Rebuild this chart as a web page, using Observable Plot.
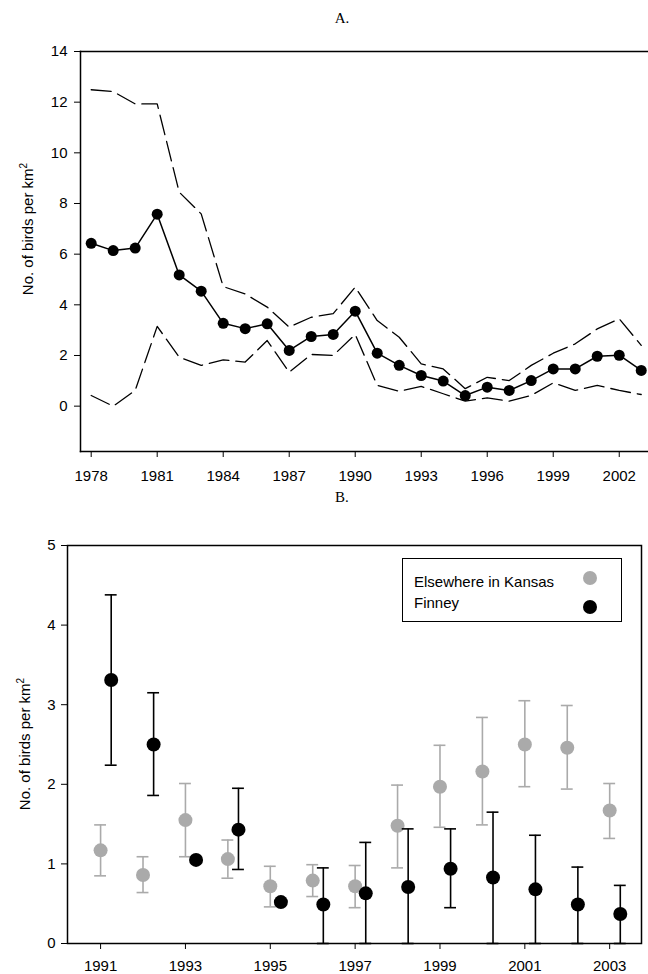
<!DOCTYPE html>
<html><head><meta charset="utf-8">
<script src="https://cdn.jsdelivr.net/npm/d3@7"></script>
<script src="https://cdn.jsdelivr.net/npm/@observablehq/plot@0.6"></script>
<style>
body{margin:0;background:#fff;width:648px;height:974px;position:relative;overflow:hidden;font-family:"Liberation Sans",Arial,sans-serif;color:#000;}
.abs{position:absolute;}
.title{font-family:"Liberation Serif","Times New Roman",serif;font-size:15px;width:648px;text-align:center;left:18px;line-height:15px;}
.ylab{font-size:15px;white-space:nowrap;line-height:15px;transform:translate(-50%,-50%) rotate(-90deg);}
.ylab sup{font-size:10px;vertical-align:6px;line-height:0;}
.leg{border:1.5px solid #000;box-sizing:border-box;font-size:15px;}
.leg span{position:absolute;line-height:15px;white-space:nowrap;}
.leg i{position:absolute;width:14px;height:14px;border-radius:50%;}
</style></head><body>
<div class="abs title" style="top:11px">A.</div>
<div id="chartA" class="abs" style="top:30px;left:0"></div>
<div class="abs ylab" style="left:27px;top:229px">No. of birds per km<sup>2</sup></div>
<div class="abs title" style="top:490px">B.</div>
<div id="chartB" class="abs" style="top:510px;left:0"></div>
<div class="abs ylab" style="left:24px;top:744px">No. of birds per km<sup>2</sup></div>
<div id="legend" class="abs leg" style="left:402px;top:558px;width:220px;height:64px"></div>
<script>
// ---------- Panel A data ----------
const yearsA = [1978,1979,1980,1981,1982,1983,1984,1985,1986,1987,1988,1989,1990,1991,1992,1993,1994,1995,1996,1997,1998,1999,2000,2001,2002,2003];
const meanA  = [6.43,6.14,6.24,7.58,5.18,4.54,3.27,3.06,3.25,2.20,2.75,2.83,3.75,2.09,1.61,1.21,0.99,0.42,0.75,0.62,1.01,1.47,1.47,1.97,2.01,1.41];
const upperA = [12.49,12.42,11.93,11.93,8.45,7.59,4.72,4.43,3.91,3.12,3.51,3.65,4.70,3.38,2.72,1.67,1.47,0.69,1.14,1.01,1.61,2.09,2.46,3.05,3.45,2.40];
const lowerA = [0.42,0.00,0.62,3.15,1.93,1.61,1.83,1.74,2.59,1.34,2.04,2.00,2.83,0.82,0.59,0.78,0.49,0.20,0.33,0.20,0.42,0.92,0.62,0.82,0.62,0.46];
const ticksAx = [1978,1981,1984,1987,1990,1993,1996,1999,2002];
const ticksAy = [0,2,4,6,8,10,12,14];

// ---------- Panel B data ----------
const seriesNames = ["Elsewhere in Kansas","Finney"];
const yearsB   = [1991,1992,1993,1994,1995,1996,1997,1998,1999,2000,2001,2002,2003];
const elseMean = [1.17,0.86,1.55,1.06,0.72,0.79,0.72,1.48,1.97,2.16,2.50,2.46,1.67];
const elseLow  = [0.85,0.64,1.09,0.82,0.46,0.59,0.45,0.95,1.46,1.49,1.97,1.94,1.32];
const elseHigh = [1.49,1.09,2.01,1.30,0.97,0.99,0.98,1.99,2.49,2.84,3.05,2.99,2.01];
const finMean  = [3.31,2.50,1.05,1.43,0.52,0.49,0.63,0.71,0.94,0.83,0.68,0.49,0.37];
const finLow   = [2.24,1.86,null,0.93,null,0.00,0.00,0.00,0.45,0.00,0.00,0.00,0.00];
const finHigh  = [4.38,3.15,null,1.95,null,0.95,1.27,1.44,1.44,1.65,1.36,0.96,0.73];
const ticksBx = [1991,1993,1995,1997,1999,2001,2003];
const ticksBy = [0,1,2,3,4,5];

// ---------- styles ----------
const GRAY = "#aaaaaa", BLACK = "#000000";
const finneyOffset = 0.25;   // years, side-by-side placement
const capHalf = 0.14;        // years, half-width of error-bar caps
const FS = 15;
const style = {fontFamily:"'Liberation Sans', Arial, sans-serif", fontSize:FS+"px", color:"#000", background:"transparent", overflow:"visible"};

const dataA = yearsA.map((y,i)=>({year:y, mean:meanA[i], upper:upperA[i], lower:lowerA[i]}));

const chartA = Plot.plot({
  width:648, height:460, marginTop:21, marginBottom:39, marginLeft:80, marginRight:0,
  style,
  x:{domain:[1977.514,2003.33], label:null},
  y:{domain:[-1.79,14], label:null},
  marks:[
    Plot.axisX({ticks:ticksAx, tickFormat:"d", tickSize:6, tickPadding:13, fontSize:FS, label:null}),
    Plot.axisY({ticks:ticksAy, tickFormat:"d", tickSize:6, tickPadding:7, fontSize:FS, label:null}),
    Plot.line(dataA,{x:"year", y:"upper", stroke:BLACK, strokeWidth:1.3, strokeDasharray:"20,7"}),
    Plot.line(dataA,{x:"year", y:"lower", stroke:BLACK, strokeWidth:1.3, strokeDasharray:"20,7"}),
    Plot.line(dataA,{x:"year", y:"mean", stroke:BLACK, strokeWidth:1.5}),
    Plot.dot(dataA,{x:"year", y:"mean", r:5.5, fill:BLACK}),
    Plot.frame({anchor:"top", stroke:BLACK, strokeWidth:1.5}),
    Plot.frame({anchor:"left", stroke:BLACK, strokeWidth:1.5}),
    Plot.frame({anchor:"bottom", stroke:BLACK, strokeWidth:1.5})
  ]
});
document.getElementById("chartA").appendChild(chartA);

const elseData = yearsB.map((y,i)=>({x:y, mean:elseMean[i], low:elseLow[i], high:elseHigh[i]}));
const finData  = yearsB.map((y,i)=>({x:y+finneyOffset, mean:finMean[i], low:finLow[i], high:finHigh[i]}));
const finBars  = finData.filter(d=>d.low!=null && d.high!=null);

function errMarks(data, color){
  return [
    Plot.ruleX(data,{x:"x", y1:"low", y2:"high", stroke:color, strokeWidth:1.6}),
    Plot.ruleY(data,{y:"high", x1:d=>d.x-capHalf, x2:d=>d.x+capHalf, stroke:color, strokeWidth:1.6}),
    Plot.ruleY(data,{y:"low", x1:d=>d.x-capHalf, x2:d=>d.x+capHalf, stroke:color, strokeWidth:1.6})
  ];
}

const chartB = Plot.plot({
  width:648, height:464, marginTop:35, marginBottom:31, marginLeft:67, marginRight:7,
  style,
  x:{domain:[1990.22,2003.75], label:null},
  y:{domain:[0,5], label:null},
  marks:[
    Plot.axisX({ticks:ticksBx, tickFormat:"d", tickSize:6, tickPadding:11, fontSize:FS, label:null}),
    Plot.axisY({ticks:ticksBy, tickFormat:"d", tickSize:6, tickPadding:6, fontSize:FS, label:null}),
    ...errMarks(elseData, GRAY),
    Plot.dot(elseData,{x:"x", y:"mean", r:7, fill:GRAY}),
    ...errMarks(finBars, BLACK),
    Plot.dot(finData,{x:"x", y:"mean", r:7, fill:BLACK}),
    Plot.frame({stroke:BLACK, strokeWidth:1.5})
  ]
});
document.getElementById("chartB").appendChild(chartB);

// legend (HTML)
const leg = document.getElementById("legend");
const legColors = [GRAY, BLACK];
const legTextTop = [15, 36];
const legDotTop = [12, 41];
seriesNames.forEach((n,i)=>{
  const s = document.createElement("span");
  s.textContent = n; s.style.left = "11px"; s.style.top = legTextTop[i]+"px";
  leg.appendChild(s);
  const c = document.createElement("i");
  c.style.background = legColors[i]; c.style.left = "180px"; c.style.top = legDotTop[i]+"px";
  leg.appendChild(c);
});
</script>
</body></html>
